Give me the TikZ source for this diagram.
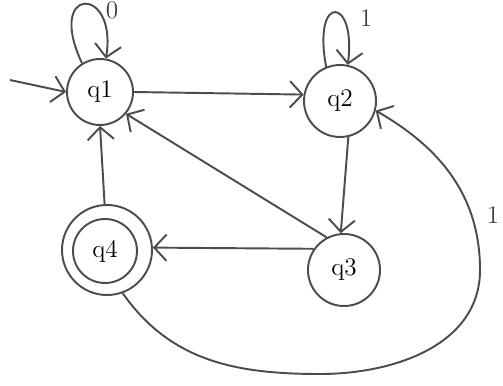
\documentclass[tikz,border=0pt]{standalone}
\usetikzlibrary{arrows.meta}
\begin{document}
\begin{tikzpicture}[x=0.02cm,y=-0.02cm,
  ink/.style={draw=black!70, line width=1.1pt},
  state/.style={ink, circle, minimum size=66*0.02cm, inner sep=0pt, font=\Large},
  edge/.style={ink, -{Straight Barb[length=7pt,width=15pt,line width=1.1pt]}},
  lab/.style={font=\Large, text=black!75}]
\useasboundingbox (0,0) rectangle (503,385);
\node[state] (q1) at (100,92) {q1};
\node[state, minimum size=72*0.02cm] (q2) at (340,101) {q2};
\node[state, minimum size=72*0.02cm] (q3) at (344,270) {q3};
\node[state, minimum size=64*0.02cm] (q4) at (105,251) {q4};
\node[ink, circle, minimum size=90*0.02cm, inner sep=0pt] (q4o) at (107,250) {};
\coordinate (s) at (10,80);
\draw[edge] (s) -- (q1.west);
\draw[edge] (q1.122) .. controls (45,-15) and (118,-15) .. (q1.80);
\node[lab] (l0) at (112,10) {0};
\draw[edge] (q2.112) .. controls (312,-8) and (357,-3) .. (q2.78);
\node[lab] (l1) at (366,18) {1};
\draw[edge] (q1.east) -- (q2.170);
\draw[edge] (q2.283) -- (q3.95);
\draw[edge] (q3.145) -- (q4o.3);
\draw[edge] (q4o.93) -- (q1.south);
\draw[edge] (q3.118) -- (q1.-40);
\draw[edge] (q4o.-70) to[out=-55,in=180] (320,374) to[out=0,in=-90] (480,270) to[out=90,in=-30] (q2.-15);
\node[lab] (l2) at (493,215) {1};
\end{tikzpicture}
\end{document}
